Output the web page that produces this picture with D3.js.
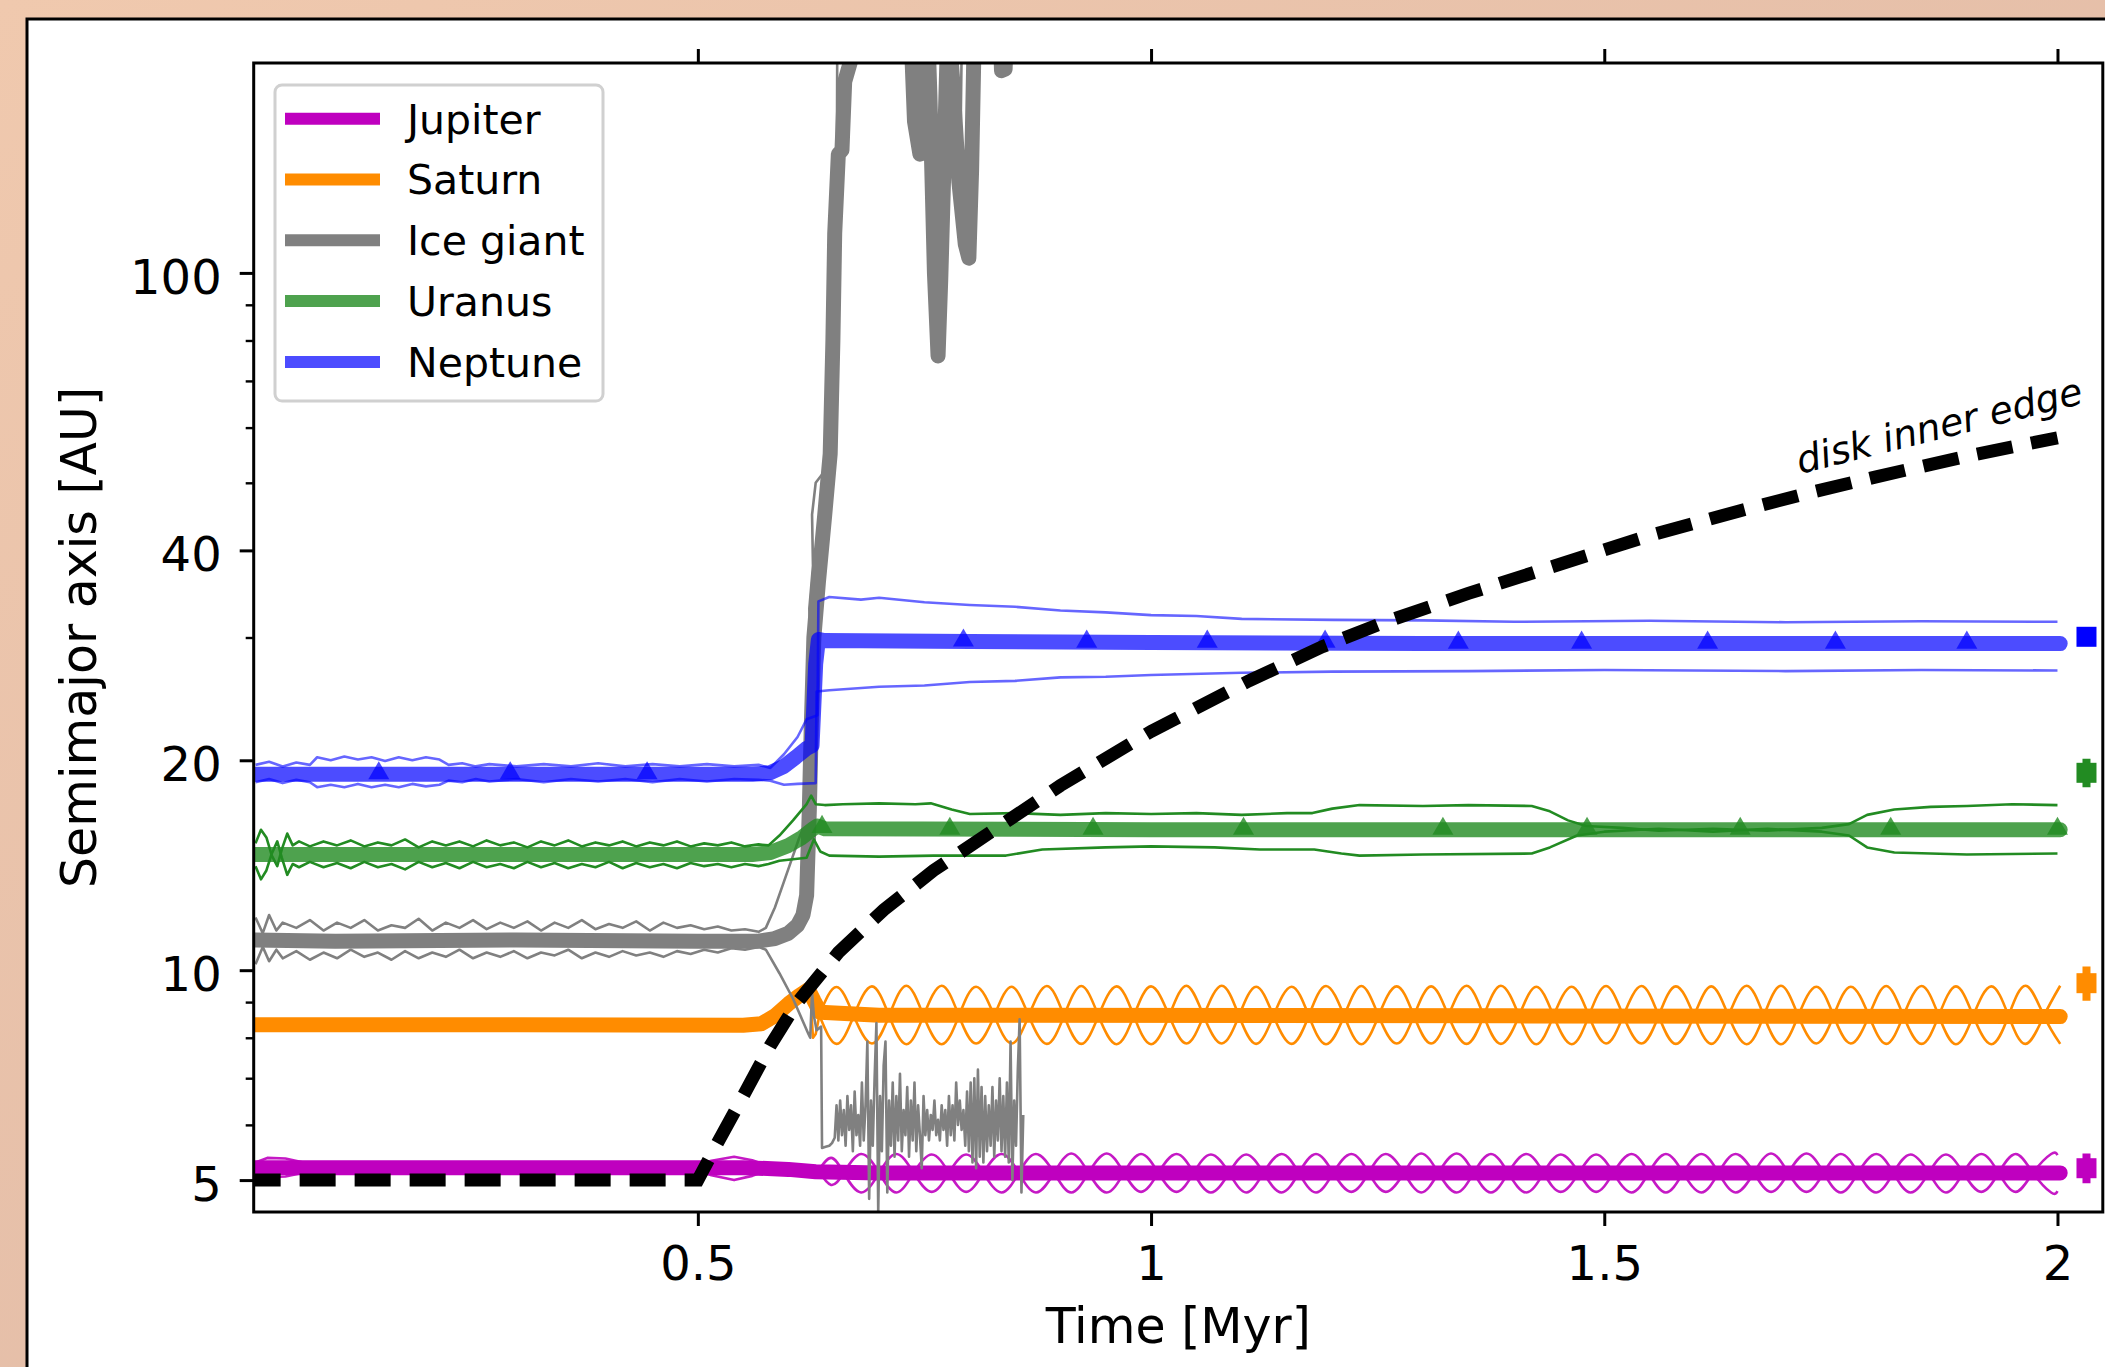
<!DOCTYPE html>
<html>
<head>
<meta charset="utf-8">
<script src="https://cdn.jsdelivr.net/npm/d3@7"></script>
<style>
  html, body { margin: 0; padding: 0; overflow: hidden; background: #fff; }
  text { font-family: "DejaVu Sans", sans-serif; }
</style>
</head>
<body>
<svg id="fig" width="2105" height="1367"></svg>
<script>
// ---------------- data (time in Myr, semimajor axis / peri / apo in AU) ----------------
const planetNames  = ["Jupiter", "Saturn", "Ice giant", "Uranus", "Neptune"];
const planetColors = ["#bf00bf", "#ff8c00", "#808080", "#228b22", "#0000ff"];
const thickOpacity = [1, 1, 1, 0.8, 0.7];
const thinOpacity  = [0.9, 1, 1, 1, 0.6];

const xTicks = [0.5, 1, 1.5, 2];
const xTickLabels = ["0.5", "1", "1.5", "2"];
const yMajor = [5, 10, 20, 40, 100];
const yMajorLabels = ["5", "10", "20", "40", "100"];
const yMinor = [6, 7, 8, 9, 30, 50, 60, 70, 80, 90];

// Jupiter
const jupiterA = [[0.012,5.21],[0.3,5.21],[0.55,5.21],[0.6,5.18],[0.63,5.14],[0.7,5.12],[2.003,5.12]];
const jupiterHiEarly = [[0.012,5.3],[0.025,5.38],[0.045,5.37],[0.07,5.28],[0.09,5.26],[0.5,5.26],[0.515,5.33],[0.54,5.4],[0.56,5.34],[0.578,5.24],[0.633,5.16]];
const jupiterLoEarly = [[0.012,5.13],[0.025,5.05],[0.045,5.06],[0.07,5.14],[0.09,5.16],[0.5,5.16],[0.515,5.08],[0.54,5.0],[0.56,5.07],[0.578,5.17],[0.633,5.16]];
const jupiterOscT = [
  0.633,0.647,0.661,0.680,0.700,0.719,0.738,0.758,0.777,0.796,
  0.815,0.835,0.854,0.873,0.893,0.912,0.931,0.951,0.970,0.989,
  1.008,1.028,1.047,1.066,1.086,1.105,1.124,1.144,1.163,1.182,
  1.201,1.221,1.240,1.259,1.279,1.298,1.317,1.337,1.356,1.375,
  1.394,1.414,1.433,1.452,1.472,1.491,1.510,1.530,1.549,1.568,
  1.587,1.607,1.626,1.645,1.665,1.684,1.703,1.723,1.742,1.761,
  1.780,1.800,1.819,1.838,1.858,1.877,1.896,1.916,1.935,1.954,
  1.973,1.993,2.000];
const jupiterOscHi = [5.16,5.38,
  5.12,4.8,5.12,5.45, 5.12,4.81,5.12,5.44, 5.12,4.8,5.12,5.45, 5.12,4.8,5.12,5.46,
  5.12,4.81,5.12,5.45, 5.12,4.8,5.12,5.44, 5.12,4.8,5.12,5.45, 5.12,4.81,5.12,5.45,
  5.12,4.8,5.12,5.46, 5.12,4.8,5.12,5.45, 5.12,4.81,5.12,5.44, 5.12,4.8,5.12,5.45,
  5.12,4.8,5.12,5.45, 5.12,4.81,5.12,5.46, 5.12,4.8,5.12,5.45, 5.12,4.8,5.12,5.44,
  5.12,4.81,5.12,5.45,
  5.12,4.8,4.82];
const jupiterOscLo = [5.16,4.92,
  5.12,5.45,5.12,4.8, 5.12,5.44,5.12,4.81, 5.12,5.45,5.12,4.8, 5.12,5.46,5.12,4.8,
  5.12,5.45,5.12,4.81, 5.12,5.44,5.12,4.8, 5.12,5.45,5.12,4.8, 5.12,5.45,5.12,4.81,
  5.12,5.46,5.12,4.8, 5.12,5.45,5.12,4.8, 5.12,5.44,5.12,4.81, 5.12,5.45,5.12,4.8,
  5.12,5.45,5.12,4.8, 5.12,5.46,5.12,4.81, 5.12,5.45,5.12,4.8, 5.12,5.44,5.12,4.8,
  5.12,5.45,5.12,4.81,
  5.12,5.45,5.43];

// Saturn
const saturnA = [[0.012,8.35],[0.3,8.35],[0.55,8.34],[0.57,8.38],[0.585,8.6],[0.6,8.95],[0.612,9.2],[0.622,9.38],[0.628,9.05],[0.635,8.7],[0.7,8.62],[1.4,8.6],[2.003,8.58]];
const saturnHiEarly = [[0.012,8.42],[0.3,8.43],[0.55,8.42],[0.58,8.6],[0.6,9.02],[0.615,9.35],[0.624,9.6],[0.628,9.5],[0.634,8.6]];
const saturnLoEarly = [[0.012,8.28],[0.3,8.27],[0.55,8.28],[0.58,8.45],[0.6,8.85],[0.615,9.15],[0.624,9.3],[0.627,8.0],[0.63,8.1],[0.634,8.6]];
const saturnOscT = [
  0.634,0.653,0.672,0.692,0.711,0.730,0.749,0.769,0.788,0.807,
  0.827,0.846,0.865,0.885,0.904,0.923,0.942,0.962,0.981,1.000,
  1.020,1.039,1.058,1.078,1.097,1.116,1.135,1.155,1.174,1.193,
  1.213,1.232,1.251,1.271,1.290,1.309,1.328,1.348,1.367,1.386,
  1.406,1.425,1.444,1.464,1.483,1.502,1.521,1.541,1.560,1.579,
  1.599,1.618,1.637,1.657,1.676,1.695,1.714,1.734,1.753,1.772,
  1.792,1.811,1.830,1.850,1.869,1.888,1.907,1.927,1.946,1.965,
  1.985,2.003];
const saturnOscHi = [
  8.62,9.46,8.6,7.85, 8.6,9.5,8.6,7.83, 8.6,9.47,8.6,7.85, 8.6,9.49,8.6,7.84,
  8.6,9.48,8.6,7.83, 8.6,9.5,8.6,7.85, 8.6,9.47,8.6,7.84, 8.6,9.49,8.6,7.83,
  8.6,9.48,8.6,7.85, 8.6,9.5,8.6,7.84, 8.6,9.47,8.6,7.83, 8.6,9.49,8.6,7.85,
  8.6,9.48,8.6,7.84, 8.6,9.5,8.6,7.83, 8.6,9.47,8.6,7.85, 8.6,9.49,8.6,7.84,
  8.6,9.48,8.6,7.83, 8.6,9.5,8.6,7.84];
const saturnOscLo = [
  8.62,7.84,8.6,9.48, 8.6,7.83,8.6,9.5, 8.6,7.85,8.6,9.47, 8.6,7.84,8.6,9.49,
  8.6,7.83,8.6,9.48, 8.6,7.85,8.6,9.5, 8.6,7.84,8.6,9.47, 8.6,7.83,8.6,9.49,
  8.6,7.85,8.6,9.48, 8.6,7.84,8.6,9.5, 8.6,7.83,8.6,9.47, 8.6,7.85,8.6,9.49,
  8.6,7.84,8.6,9.48, 8.6,7.83,8.6,9.5, 8.6,7.85,8.6,9.47, 8.6,7.84,8.6,9.49,
  8.6,7.83,8.6,9.48, 8.6,7.84,8.6,9.5];

// Ice giant
const iceA = [[0.012,11.05],[0.1,11.0],[0.3,11.05],[0.5,11.0],[0.565,11.0],[0.585,11.1],[0.6,11.3],[0.61,11.6],[0.616,12.0],[0.62,12.8],
  [0.623,17],[0.625,22],[0.628,30],[0.633,36],[0.64,45],[0.646,55],[0.649,80],[0.651,114],[0.655,148],[0.659,150],[0.662,188],[0.668,200],[0.675,260],
  [0.733,260],[0.739,165],[0.745,148],[0.749,190],[0.752,260],[0.756,180],[0.761,100],[0.765,76],[0.768,98],[0.772,150],[0.776,230],
  [0.781,190],[0.788,135],[0.795,110],[0.799,105],[0.802,140],[0.806,260],[0.832,260],[0.835,195],[0.839,196],[0.842,260]];
const iceHi = [[0.012,11.9],[0.02,11.3],[0.027,12.0],[0.035,11.4],[0.042,11.7],[0.057,11.5],[0.072,11.8],[0.087,11.4],[0.102,11.7],[0.117,11.5],
  [0.132,11.8],[0.147,11.4],[0.162,11.6],[0.177,11.5],[0.192,11.85],[0.207,11.4],[0.222,11.7],[0.237,11.5],[0.252,11.8],[0.267,11.45],
  [0.282,11.7],[0.297,11.5],[0.312,11.75],[0.327,11.4],[0.342,11.7],[0.357,11.5],[0.372,11.8],[0.387,11.45],[0.402,11.65],[0.417,11.5],
  [0.432,11.75],[0.447,11.4],[0.462,11.7],[0.477,11.5],[0.492,11.6],[0.507,11.45],[0.522,11.55],[0.537,11.4],[0.552,11.45],[0.567,11.35],
  [0.575,11.5],[0.585,12.3],[0.595,13.4],[0.605,14.6],[0.612,15.5],[0.618,16.2],[0.622,17.4],[0.624,21],[0.621,24],[0.625,28],[0.623,33],
  [0.627,38],[0.626,45],[0.63,50],[0.64,52],[0.652,55],[0.653,100],[0.654,260],[0.785,260],[0.789,130],[0.792,260]];
const iceLo = [[0.012,10.2],[0.02,10.8],[0.027,10.3],[0.035,10.7],[0.042,10.4],[0.057,10.65],[0.072,10.35],[0.087,10.6],[0.102,10.4],[0.117,10.7],
  [0.132,10.45],[0.147,10.6],[0.162,10.35],[0.177,10.65],[0.192,10.4],[0.207,10.6],[0.222,10.45],[0.237,10.7],[0.252,10.4],[0.267,10.6],
  [0.282,10.45],[0.297,10.65],[0.312,10.4],[0.327,10.6],[0.342,10.5],[0.357,10.7],[0.372,10.4],[0.387,10.6],[0.402,10.45],[0.417,10.65],
  [0.432,10.5],[0.447,10.6],[0.462,10.45],[0.477,10.65],[0.492,10.55],[0.507,10.7],[0.522,10.6],[0.537,10.75],[0.552,10.7],[0.567,10.8],
  [0.575,10.7],[0.59,9.9],[0.605,9.1],[0.615,8.5],[0.622,8.1],[0.624,8.0],[0.626,9.3],[0.628,8.6],[0.631,8.2],[0.636,8.3],
  [0.637,5.56],[0.641,5.58],[0.645,5.6],[0.648,5.65],[0.651,5.75],
  [0.653,6.4],[0.655,5.7],[0.657,6.5],[0.659,5.8],[0.661,6.3],[0.663,5.6],[0.665,6.6],[0.667,5.9],[0.669,6.4],[0.671,5.5],
  [0.673,6.7],[0.675,5.8],[0.677,6.2],[0.679,5.6],[0.681,6.9],[0.683,5.7],[0.685,6.4],[0.687,7.9],[0.689,4.7],[0.691,6.5],
  [0.693,5.6],[0.695,7.0],[0.697,8.4],[0.699,4.5],[0.701,6.6],[0.703,5.5],[0.705,7.3],[0.707,7.9],[0.709,4.8],[0.711,6.5],
  [0.713,5.6],[0.715,6.9],[0.717,5.4],[0.719,6.6],[0.721,5.7],[0.723,7.1],[0.725,5.5],[0.727,6.3],[0.729,5.8],[0.731,6.8],
  [0.733,5.4],[0.735,6.5],[0.737,5.7],[0.739,6.9],[0.741,5.5],[0.743,6.4],[0.745,5.8],[0.747,5.2],[0.749,6.6],[0.751,5.8],
  [0.753,6.3],[0.755,5.7],[0.757,6.2],[0.759,5.9],[0.761,6.5],[0.763,5.8],[0.765,6.1],[0.767,5.7],[0.769,6.4],[0.771,5.9],
  [0.773,6.3],[0.775,5.6],[0.777,6.6],[0.779,5.8],[0.781,6.4],[0.783,5.7],[0.785,6.9],[0.787,6.0],[0.789,6.5],[0.791,5.9],
  [0.793,6.3],[0.795,5.6],[0.797,6.7],[0.799,5.5],[0.801,6.9],[0.803,5.3],[0.805,7.0],[0.807,5.2],[0.809,7.2],[0.811,5.4],
  [0.813,6.8],[0.815,5.3],[0.817,6.6],[0.819,5.5],[0.821,6.4],[0.823,5.6],[0.825,6.8],[0.827,5.4],[0.829,6.5],[0.831,5.7],
  [0.833,7.0],[0.835,5.5],[0.837,6.6],[0.839,5.4],[0.841,6.9],[0.843,5.3],[0.845,7.9],[0.847,5.0],[0.849,6.5],[0.851,5.6],
  [0.853,7.2],[0.855,8.5],[0.857,4.8],[0.859,6.2]];

// Uranus
const uranusA = [[0.012,14.65],[0.3,14.65],[0.56,14.65],[0.58,14.75],[0.6,15.1],[0.615,15.5],[0.627,15.95],[0.632,16.1],[0.64,15.95],[1.0,15.9],[2.003,15.9]];
const uranusHi = [[0.012,15.2],[0.018,15.9],[0.024,15.5],[0.03,14.6],[0.036,14.1],[0.041,14.9],[0.047,15.7],[0.053,15.1],[0.06,15.3],[0.072,15.05],
  [0.087,15.3],[0.102,15.1],[0.117,15.35],[0.132,15.05],[0.147,15.25],[0.162,15.1],[0.177,15.4],[0.192,15.0],[0.207,15.3],[0.222,15.1],
  [0.237,15.3],[0.252,15.05],[0.267,15.35],[0.282,15.1],[0.297,15.25],[0.312,15.0],[0.327,15.3],[0.342,15.1],[0.357,15.35],[0.372,15.05],
  [0.387,15.25],[0.402,15.1],[0.417,15.3],[0.432,15.05],[0.447,15.25],[0.462,15.1],[0.477,15.3],[0.492,15.05],[0.507,15.2],[0.522,15.1],
  [0.537,15.25],[0.552,15.05],[0.567,15.15],[0.578,15.1],[0.59,15.6],[0.605,16.4],[0.62,17.3],[0.625,17.8],[0.63,17.3],[0.64,17.25],
  [0.66,17.3],[0.7,17.35],[0.74,17.3],[0.757,17.35],[0.78,17.0],[0.8,16.75],[0.85,16.8],[0.9,16.7],[0.95,16.8],[1.0,16.75],
  [1.05,16.8],[1.1,16.7],[1.15,16.8],[1.178,16.8],[1.2,17.05],[1.23,17.25],[1.3,17.2],[1.35,17.25],[1.42,17.2],[1.44,16.9],
  [1.46,16.4],[1.48,16.1],[1.52,16.0],[1.56,15.85],[1.62,15.95],[1.68,15.85],[1.74,16.0],[1.77,16.2],[1.79,16.7],[1.82,17.0],
  [1.86,17.15],[1.9,17.2],[1.95,17.3],[2.0,17.25]];
const uranusLo = [[0.012,14.1],[0.018,13.5],[0.024,13.9],[0.03,14.7],[0.036,15.3],[0.041,14.5],[0.047,13.7],[0.053,14.2],[0.06,14.05],[0.072,14.3],
  [0.087,14.05],[0.102,14.25],[0.117,14.0],[0.132,14.3],[0.147,14.05],[0.162,14.2],[0.177,13.95],[0.192,14.3],[0.207,14.05],[0.222,14.25],
  [0.237,14.0],[0.252,14.3],[0.267,14.05],[0.282,14.2],[0.297,14.0],[0.312,14.3],[0.327,14.05],[0.342,14.25],[0.357,14.0],[0.372,14.2],
  [0.387,14.05],[0.402,14.3],[0.417,14.0],[0.432,14.25],[0.447,14.05],[0.462,14.2],[0.477,14.0],[0.492,14.25],[0.507,14.1],[0.522,14.2],
  [0.537,14.05],[0.552,14.2],[0.567,14.1],[0.578,14.2],[0.59,14.35],[0.62,14.5],[0.628,15.4],[0.635,14.8],[0.645,14.6],[0.7,14.55],
  [0.76,14.6],[0.84,14.6],[0.88,14.9],[0.95,15.0],[1.0,15.05],[1.07,15.0],[1.12,14.9],[1.18,14.9],[1.21,14.7],[1.23,14.6],
  [1.3,14.65],[1.42,14.7],[1.44,15.0],[1.47,15.6],[1.5,15.8],[1.56,15.95],[1.62,15.8],[1.68,15.95],[1.74,15.8],[1.77,15.6],
  [1.79,15.0],[1.82,14.75],[1.9,14.65],[2.0,14.7]];
const uranusMarkT = [0.637,0.778,0.936,1.102,1.322,1.481,1.650,1.816,2.0];
const uranusMarkV = [16.0,15.9,15.9,15.9,15.9,15.9,15.9,15.9,15.9];

// Neptune
const neptuneA = [[0.012,19.1],[0.3,19.1],[0.56,19.1],[0.58,19.2],[0.595,19.6],[0.608,20.2],[0.62,20.8],[0.626,21.0],[0.628,24],[0.63,27.5],[0.633,29.8],[0.64,29.7],[0.8,29.6],[1.0,29.5],[1.3,29.4],[2.003,29.4]];
const neptuneHi = [[0.012,19.7],[0.027,19.9],[0.042,19.6],[0.057,19.85],[0.072,19.7],[0.08,20.2],[0.095,20.0],[0.11,20.25],[0.125,20.05],[0.14,20.2],
  [0.155,19.95],[0.17,20.2],[0.185,20.0],[0.2,20.2],[0.215,20.05],[0.225,19.7],[0.24,19.8],[0.255,19.6],[0.27,19.75],[0.3,19.6],
  [0.33,19.75],[0.36,19.6],[0.39,19.8],[0.42,19.6],[0.45,19.75],[0.48,19.6],[0.51,19.75],[0.54,19.6],[0.567,19.7],[0.58,19.5],
  [0.595,20.4],[0.61,21.6],[0.62,22.9],[0.632,23.2],[0.633,33.8],[0.645,34.3],[0.68,34.0],[0.7,34.2],[0.75,33.7],[0.8,33.4],
  [0.85,33.2],[0.9,32.8],[0.95,32.6],[1.0,32.3],[1.05,32.2],[1.1,31.9],[1.2,31.8],[1.3,31.75],[1.4,31.6],[1.55,31.7],
  [1.7,31.55],[1.85,31.65],[2.0,31.6]];
const neptuneLo = [[0.012,18.6],[0.027,18.8],[0.042,18.55],[0.057,18.75],[0.072,18.6],[0.08,18.3],[0.095,18.45],[0.11,18.3],[0.125,18.5],[0.14,18.3],
  [0.155,18.45],[0.17,18.3],[0.185,18.5],[0.2,18.35],[0.215,18.45],[0.225,18.7],[0.24,18.6],[0.255,18.8],[0.27,18.65],[0.3,18.8],
  [0.33,18.6],[0.36,18.8],[0.39,18.65],[0.42,18.8],[0.45,18.6],[0.48,18.8],[0.51,18.65],[0.54,18.8],[0.567,18.75],[0.58,18.7],
  [0.595,18.45],[0.61,18.5],[0.63,18.55],[0.631,25.1],[0.645,25.2],[0.7,25.5],[0.75,25.6],[0.8,25.9],[0.85,26.0],[0.9,26.3],
  [0.95,26.35],[1.0,26.5],[1.1,26.7],[1.2,26.8],[1.35,26.85],[1.5,26.95],[1.7,26.85],[1.85,26.95],[2.0,26.9]];
const neptuneMarkT = [0.148,0.293,0.444,0.793,0.929,1.062,1.192,1.339,1.475,1.614,1.755,1.900];
const neptuneMarkV = [19.1,19.1,19.1,29.6,29.5,29.5,29.5,29.4,29.4,29.4,29.4,29.4];

// disk inner edge
const diskEdge = [[0.0,5],[0.5,5],[0.52,5.6],[0.55,6.6],[0.58,7.8],[0.61,9.0],[0.655,10.6],[0.705,12.2],[0.76,13.9],[0.827,15.9],
  [0.9,18.4],[1.0,22.0],[1.108,26.0],[1.189,29.1],[1.256,31.5],[1.35,34.7],[1.434,37.6],[1.547,41.9],[1.65,45.6],[1.724,48.3],
  [1.8,51.0],[1.9,54.6],[2.0,58.0]];

// present-day orbits (a, perihelion, aphelion) of Jupiter, Saturn, Uranus, Neptune
const presentT = 2.032;
const presentColors = ["#bf00bf", "#ff8c00", "#228b22", "#0000ff"];
const presentA = [5.20, 9.58, 19.19, 30.07];
const presentPeri = [4.95, 9.04, 18.29, 29.81];
const presentApo = [5.46, 10.12, 20.10, 30.33];

// ---------------- layout ----------------
const W = 2105, H = 1367;
const plot = { left: 253.7, right: 2102.8, top: 63, bottom: 1212 };
const svg = d3.select("#fig");
const defs = svg.append("defs");

const bg = defs.append("linearGradient").attr("id", "bgGrad")
  .attr("x1", 0).attr("y1", 0).attr("x2", 1).attr("y2", 1);
bg.append("stop").attr("offset", 0).attr("stop-color", "#f0c9ae");
bg.append("stop").attr("offset", 1).attr("stop-color", "#dcb6a4");
svg.append("rect").attr("width", W).attr("height", H).attr("fill", "url(#bgGrad)");
svg.append("rect").attr("x", 27).attr("y", 19).attr("width", W).attr("height", H)
  .attr("fill", "#fff").attr("stroke", "#000").attr("stroke-width", 3);

defs.append("clipPath").attr("id", "plotClip").append("rect")
  .attr("x", plot.left).attr("y", plot.top)
  .attr("width", plot.right - plot.left).attr("height", plot.bottom - plot.top);

const x = d3.scaleLinear().domain([0.01, 2.05]).range([plot.left, plot.right]);
const y = d3.scaleLog().domain([4.5, 200]).range([plot.bottom, plot.top]);

const line = d3.line().x(d => x(d[0])).y(d => y(d[1]));
const smooth = d3.line().x(d => x(d[0])).y(d => y(d[1])).curve(d3.curveNatural);

const g = svg.append("g").attr("clip-path", "url(#plotClip)");

function thin(data, i, gen) {
  g.append("path").attr("d", (gen || line)(data)).attr("fill", "none")
    .attr("stroke", planetColors[i]).attr("stroke-opacity", thinOpacity[i])
    .attr("stroke-width", 2.6).attr("stroke-linejoin", "round");
}
function thick(data, i) {
  g.append("path").attr("d", line(data)).attr("fill", "none")
    .attr("stroke", planetColors[i]).attr("stroke-opacity", thickOpacity[i])
    .attr("stroke-width", 15).attr("stroke-linejoin", "round").attr("stroke-linecap", "round");
}
function marks(ts, vs, i) {
  const sym = d3.symbol().type(d3.symbolTriangle).size(190);
  g.selectAll(null).data(d3.zip(ts, vs)).enter().append("path")
    .attr("d", sym).attr("transform", d => `translate(${x(d[0])},${y(d[1]) - 1})`)
    .attr("fill", planetColors[i]).attr("fill-opacity", thickOpacity[i]);
}

// Jupiter
thin(jupiterHiEarly, 0); thin(jupiterLoEarly, 0);
thin(d3.zip(jupiterOscT, jupiterOscHi), 0, smooth);
thin(d3.zip(jupiterOscT, jupiterOscLo), 0, smooth);
thick(jupiterA, 0);
// Saturn
thin(saturnHiEarly, 1); thin(saturnLoEarly, 1);
thin(d3.zip(saturnOscT, saturnOscHi), 1, smooth);
thin(d3.zip(saturnOscT, saturnOscLo), 1, smooth);
thick(saturnA, 1);
// Ice giant
thin(iceHi, 2); thin(iceLo, 2);
thick(iceA, 2);
// Uranus
thin(uranusHi, 3); thin(uranusLo, 3);
thick(uranusA, 3);
marks(uranusMarkT, uranusMarkV, 3);
// Neptune
thin(neptuneHi, 4); thin(neptuneLo, 4);
thick(neptuneA, 4);
marks(neptuneMarkT, neptuneMarkV, 4);

// disk inner edge
g.append("path").attr("d", line(diskEdge)).attr("fill", "none")
  .attr("stroke", "#000").attr("stroke-width", 13).attr("stroke-dasharray", "36,19");

// present-day planets with peri/apo bars
presentA.forEach((a, k) => {
  g.append("line").attr("x1", x(presentT)).attr("x2", x(presentT))
    .attr("y1", y(presentPeri[k])).attr("y2", y(presentApo[k]))
    .attr("stroke", presentColors[k]).attr("stroke-width", 8);
  g.append("rect").attr("x", x(presentT) - 10).attr("y", y(a) - 10)
    .attr("width", 20).attr("height", 20).attr("fill", presentColors[k]);
});

// label for the disk edge
svg.append("text").attr("transform", "translate(1800,474) rotate(-14)")
  .attr("font-size", 38).attr("font-style", "italic").text("disk inner edge");

// ---------------- axes ----------------
const fs = 48;
const axB = svg.append("g").attr("transform", `translate(0,${plot.bottom})`)
  .call(d3.axisBottom(x).tickValues(xTicks).tickFormat((d, i) => xTickLabels[i]).tickSize(14).tickSizeOuter(0));
axB.select(".domain").remove();
axB.selectAll("line").attr("stroke-width", 3);
axB.selectAll("text").attr("y", 68).attr("dy", 0).attr("font-size", fs)
  .attr("font-family", "DejaVu Sans").attr("fill", "#000");

const axT = svg.append("g").attr("transform", `translate(0,${plot.top})`)
  .call(d3.axisTop(x).tickValues(xTicks).tickFormat("").tickSize(14).tickSizeOuter(0));
axT.select(".domain").remove();
axT.selectAll("line").attr("stroke-width", 3);

const axL = svg.append("g").attr("transform", `translate(${plot.left},0)`)
  .call(d3.axisLeft(y).tickValues(yMajor).tickFormat((d, i) => yMajorLabels[i]).tickSize(14).tickSizeOuter(0));
axL.select(".domain").remove();
axL.selectAll("line").attr("stroke-width", 3);
axL.selectAll("text").attr("x", -32).attr("dy", "0.42em").attr("font-size", fs)
  .attr("font-family", "DejaVu Sans").attr("fill", "#000");

const axLm = svg.append("g").attr("transform", `translate(${plot.left},0)`)
  .call(d3.axisLeft(y).tickValues(yMinor).tickFormat("").tickSize(8).tickSizeOuter(0));
axLm.select(".domain").remove();
axLm.selectAll("line").attr("stroke-width", 2.4);

svg.append("rect").attr("x", plot.left).attr("y", plot.top)
  .attr("width", plot.right - plot.left).attr("height", plot.bottom - plot.top)
  .attr("fill", "none").attr("stroke", "#000").attr("stroke-width", 3);

svg.append("text").attr("x", (plot.left + plot.right) / 2).attr("y", 1343)
  .attr("text-anchor", "middle").attr("font-size", 49).text("Time [Myr]");
svg.append("text").attr("transform", `translate(96,${(plot.top + plot.bottom) / 2}) rotate(-90)`)
  .attr("text-anchor", "middle").attr("font-size", 49).text("Semimajor axis [AU]");

// ---------------- legend ----------------
const lg = svg.append("g");
lg.append("rect").attr("x", 275).attr("y", 85).attr("width", 328).attr("height", 316).attr("rx", 7)
  .attr("fill", "#fff").attr("fill-opacity", 0.8).attr("stroke", "#d0d0d0").attr("stroke-width", 3);
planetNames.forEach((name, i) => {
  const cy = 118.7 + i * 60.8;
  lg.append("line").attr("x1", 285).attr("x2", 380).attr("y1", cy).attr("y2", cy)
    .attr("stroke", planetColors[i]).attr("stroke-opacity", thickOpacity[i]).attr("stroke-width", 12);
  lg.append("text").attr("x", 407).attr("y", cy + 14.8).attr("font-size", 41).text(name);
});
</script>
</body>
</html>
